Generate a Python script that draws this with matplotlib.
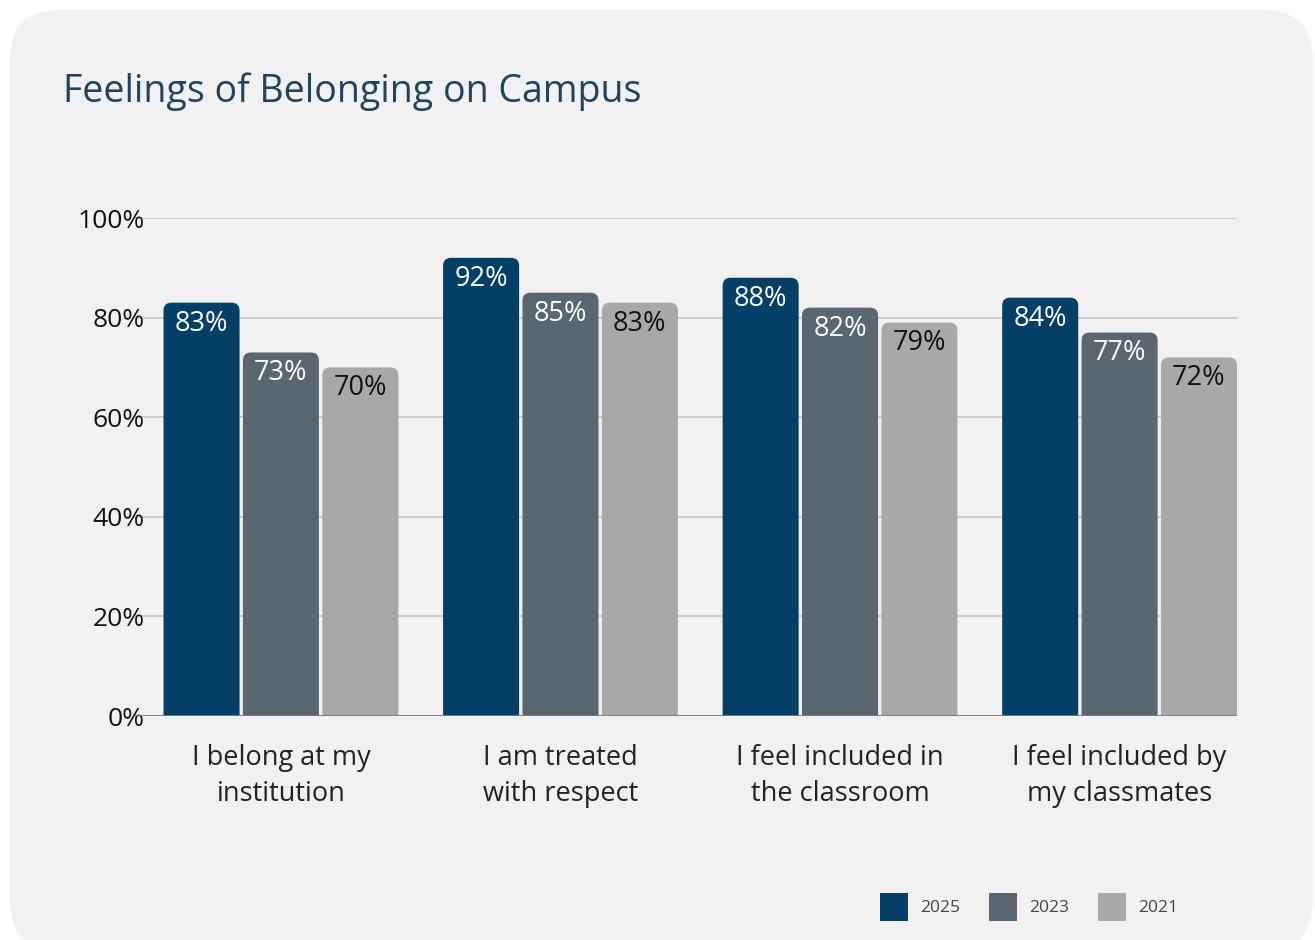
import numpy as np
import matplotlib
matplotlib.use("Agg")
import matplotlib.pyplot as plt
from matplotlib.patches import FancyBboxPatch, Rectangle

plt.rcParams['font.family'] = ['Open Sans', 'DejaVu Sans']

categories = ["I belong at my\ninstitution", "I am treated\nwith respect",
              "I feel included in\nthe classroom", "I feel included by\nmy classmates"]
years = ["2025", "2023", "2021"]
values = {
    "2025": [83, 92, 88, 84],
    "2023": [73, 85, 82, 77],
    "2021": [70, 83, 79, 72],
}
colors = {"2025": "#033f66", "2023": "#5a6670", "2021": "#a7a8aa"}
text_colors = {"2025": "white", "2023": "white", "2021": "#111111"}
yticks = [0, 20, 40, 60, 80, 100]

fig = plt.figure(figsize=(13.15, 9.4), dpi=100)
fig.patch.set_facecolor("white")

# background panel in pixel coords
bg = fig.add_axes([0, 0, 1, 1])
bg.set_xlim(0, 1315)
bg.set_ylim(940, 0)
bg.axis("off")
bg.add_patch(FancyBboxPatch((10, 10), 1303, 940,
                            boxstyle="round,pad=0,rounding_size=50",
                            fc="#f0f1f0", ec="none"))
bg.text(63, 92, "Feelings of Belonging on Campus", fontsize=27,
        color="#1d4460", va="center", ha="left")

ax = fig.add_axes([135 / 1315, 1 - 716 / 940, (1237 - 135) / 1315, (716 - 218) / 940])
ax.set_facecolor("none")
ax.set_xlim(-0.522, 3.42)
ax.set_ylim(0, 100)

x = np.arange(len(categories))
w = 0.272
step = 0.284
# rounding: ~8px radius
rx = 8 / 279.5
ry = 8 / 4.98
for i, yr in enumerate(years):
    for j, v in enumerate(values[yr]):
        left = x[j] + (i - 1) * step - w / 2
        p = FancyBboxPatch((left, -5), w, v + 5,
                           boxstyle="round,pad=0,rounding_size=%f" % rx,
                           mutation_aspect=ry / rx,
                           fc=colors[yr], ec="none", zorder=3)
        ax.add_patch(p)
        ax.text(left + w / 2, v - 4.2, f"{v}%", ha="center", va="center",
                fontsize=19.5, color=text_colors[yr], zorder=4)

ax.set_yticks(yticks)
ax.set_yticklabels([f"{t}%" for t in yticks], fontsize=19, color="#111111")
ax.yaxis.grid(True, color="#c4c4c4", lw=1.2, zorder=0)
ax.set_axisbelow(True)
ax.tick_params(axis="y", length=0, pad=-7)
for lab in ax.get_yticklabels():
    lab.set_horizontalalignment("right")
ax.set_xticks(x)
ax.set_xticklabels(categories, fontsize=19.5, color="#222222", linespacing=1.38)
ax.tick_params(axis="x", length=0, pad=20)
for s in ax.spines.values():
    s.set_visible(False)
ax.axhline(0, color="#7a7f84", lw=1.3, zorder=5)

# legend
lx = [880, 989, 1098]
for k, yr in enumerate(years):
    bg.add_patch(Rectangle((lx[k], 893), 28, 28, fc=colors[yr], ec="none"))
    bg.text(lx[k] + 40, 908, yr, fontsize=12.5, color="#444444", va="center", ha="left")

fig.savefig("out.png", dpi=100)
